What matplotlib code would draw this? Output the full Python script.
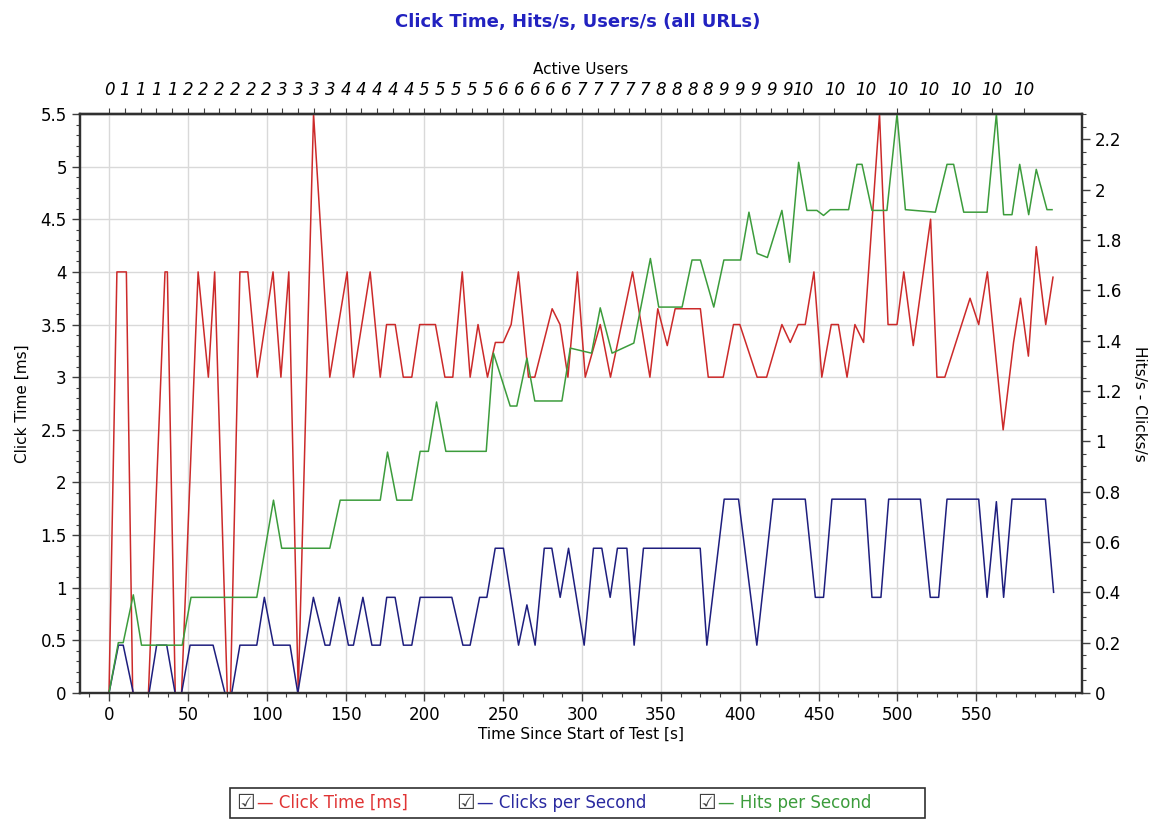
import matplotlib
matplotlib.use("Agg")
import matplotlib.pyplot as plt
from matplotlib.ticker import MultipleLocator, FormatStrFormatter
from matplotlib.patches import Rectangle

# ---- data ----
red_t = [0, 5, 11, 15, 25, 35.5, 37, 42, 46, 56.5, 63, 67, 75, 77, 83, 88, 94, 104, 109, 114,
         120, 129.7, 140, 151, 155, 165.6, 172, 176, 181.5, 186.6, 192, 197, 207, 213, 218, 224,
         229, 234, 240, 245, 250, 255, 259.6, 266, 270, 281, 286, 291, 297, 302, 311.5, 318, 332,
         343, 348, 354, 359, 375, 380, 389.5, 396, 400, 411, 417, 426.7, 432, 437, 441.5, 447,
         452, 458, 462.5, 468, 473, 478.5, 488.6, 494, 499.7, 504, 510, 521, 525, 530, 546,
         551.5, 557, 567, 573.6, 578, 583, 588, 594, 598.6]
click_time = [0, 4, 4, 0, 0, 4, 4, 0, 0, 4, 3, 4, 0, 0, 4, 4, 3, 4, 3, 4,
              0, 5.5, 3, 4, 3, 4, 3, 3.5, 3.5, 3, 3, 3.5, 3.5, 3, 3, 4,
              3, 3.5, 3, 3.33, 3.33, 3.5, 4, 3, 3, 3.65, 3.5, 3, 4, 3, 3.5, 3, 4,
              3, 3.65, 3.3, 3.65, 3.65, 3, 3, 3.5, 3.5, 3, 3, 3.5, 3.33, 3.5, 3.5, 4,
              3, 3.5, 3.5, 3, 3.5, 3.33, 5.5, 3.5, 3.5, 4, 3.3, 4.5, 3, 3, 3.75,
              3.5, 4, 2.5, 3.33, 3.75, 3.2, 4.24, 3.5, 3.95]

blue_t = [0, 6, 9, 15.4, 25.4, 30.2, 36.6, 41.9, 46, 51.4, 66, 73.5, 77.8, 83, 93.7, 98.5,
          104.3, 114.8, 119.7, 129.6, 137, 140, 146, 151.8, 155, 161, 166.7, 172, 176.1, 181.4,
          186.7, 192, 197.3, 217.4, 224.4, 229, 235, 239.6, 244.9, 250.1, 259.7, 265, 270.2,
          276, 280.8, 286.1, 291.4, 301.3, 307.2, 312.5, 317.8, 322.4, 328.4, 333, 338.9, 374.9,
          379.1, 390.1, 399.2, 410.8, 421, 441.5, 447.9, 453.1, 458.4, 479.6, 483.8, 489.5,
          494.4, 514.5, 520.8, 526.1, 531.4, 551.5, 556.8, 562.7, 567.3, 572.6, 593.8, 599]
clicks_per_s = [0, 0.19, 0.19, 0, 0, 0.19, 0.19, 0, 0, 0.19, 0.19, 0, 0, 0.19, 0.19, 0.38,
                0.19, 0.19, 0, 0.38, 0.19, 0.19, 0.38, 0.19, 0.19, 0.38, 0.19, 0.19, 0.38, 0.38,
                0.19, 0.19, 0.38, 0.38, 0.19, 0.19, 0.38, 0.38, 0.575, 0.575, 0.19, 0.35, 0.19,
                0.575, 0.575, 0.38, 0.575, 0.19, 0.575, 0.575, 0.38, 0.575, 0.575, 0.19, 0.575, 0.575,
                0.19, 0.77, 0.77, 0.19, 0.77, 0.77, 0.38, 0.38, 0.77, 0.77, 0.38, 0.38,
                0.77, 0.77, 0.38, 0.38, 0.77, 0.77, 0.38, 0.76, 0.38, 0.77, 0.77, 0.4]

green_t = [0, 5.9, 9, 15.4, 20.6, 46.4, 52, 93.7, 104.3, 109.5, 140, 146.6, 172, 176.6, 182.5,
           192, 197.3, 202.5, 207.7, 213.6, 239.2, 243.8, 254.4, 258.6, 265, 270, 287.2, 292.5,
           306, 311.5, 319, 332.8, 343.3, 348.6, 363.4, 369.7, 375, 383.5, 389.9, 400.5, 405.8,
           411, 417.5, 426.7, 431.6, 437.3, 442.6, 448.9, 453.1, 457.4, 469, 474.3, 477.5, 483.8,
           493.3, 499.7, 505, 524, 531.4, 535.6, 542, 556.8, 562.7, 567.3, 572.6, 577.5, 583.2,
           588, 594.8, 598]
hits_per_s = [0, 0.2, 0.2, 0.39, 0.19, 0.19, 0.38, 0.38, 0.766, 0.575, 0.575, 0.766, 0.766, 0.957, 0.766,
              0.766, 0.96, 0.96, 1.156, 0.96, 0.96, 1.35, 1.14, 1.14, 1.33, 1.16, 1.16, 1.37,
              1.35, 1.53, 1.35, 1.39, 1.726, 1.533, 1.533, 1.72, 1.72, 1.533, 1.72, 1.72, 1.91,
              1.746, 1.73, 1.917, 1.711, 2.108, 1.917, 1.917, 1.897, 1.92, 1.92, 2.1, 2.1, 1.917,
              1.917, 2.3, 1.92, 1.91, 2.1, 2.1, 1.91, 1.91, 2.3, 1.9, 1.9, 2.1, 1.9,
              2.08, 1.92, 1.92]

users_t = list(range(0, 450, 10)) + list(range(460, 600, 20))
active_users = [0, 1, 1, 1, 1, 2, 2, 2, 2, 2, 2, 3, 3, 3, 3, 4, 4, 4, 4, 4,
                5, 5, 5, 5, 5, 6, 6, 6, 6, 6, 7, 7, 7, 7, 7, 8, 8, 8, 8,
                9, 9, 9, 9, 9, 10, 10, 10, 10, 10, 10, 10, 10]

RED = "#cc2a2a"
BLUE = "#1e1e7e"
GREEN = "#3c9c3c"

plt.rcParams["font.family"] = "DejaVu Sans"
plt.rcParams["font.size"] = 11

W, H = 1156, 822
fig = plt.figure(figsize=(W / 100, H / 100), dpi=100)
ax = fig.add_axes([80 / W, 1 - 693 / H, (1082 - 80) / W, (693 - 114) / H])
ax2 = ax.twinx()

ax.plot(red_t, click_time, color=RED, lw=1.1, zorder=3)
ax2.plot(blue_t, clicks_per_s, color=BLUE, lw=1.1)
ax2.plot(green_t, hits_per_s, color=GREEN, lw=1.1)

ax.set_xlim(-18.4, 617)
ax.set_ylim(0, 5.5)
ax2.set_ylim(0, 2.3)

ax.set_xticks(range(0, 551, 50))
ax.xaxis.set_minor_locator(MultipleLocator(12.5))
ax.yaxis.set_major_locator(MultipleLocator(0.5))
ax.yaxis.set_minor_locator(MultipleLocator(0.1))
ax.yaxis.set_major_formatter(FormatStrFormatter("%g"))
ax2.yaxis.set_major_locator(MultipleLocator(0.2))
ax2.yaxis.set_minor_locator(MultipleLocator(0.05))
ax2.yaxis.set_major_formatter(FormatStrFormatter("%g"))

ax.grid(True, which="major", color="#d9d9d9", lw=1)
ax.set_axisbelow(True)

for a in (ax, ax2):
    for s in a.spines.values():
        s.set_color("#303030")
        s.set_linewidth(1.6)
    a.tick_params(which="major", length=6, width=1, color="#404040", labelsize=12)
    a.tick_params(which="minor", length=3, width=0.8, color="#404040")

ax.set_xlabel("Time Since Start of Test [s]", fontsize=11, labelpad=2)
ax.set_ylabel("Click Time [ms]", fontsize=11, labelpad=8)
ax2.set_ylabel("Hits/s - Clicks/s", fontsize=11, rotation=-90, labelpad=18)

# top axis with active users
top = ax.secondary_xaxis("top")
top.set_xticks(users_t)
top.set_xticklabels([str(u) for u in active_users], fontstyle="italic", fontsize=12)
top.tick_params(length=4, width=0.8, color="#404040", pad=7)
top.spines["top"].set_linewidth(1.6)
top.set_xlabel("Active Users", fontsize=11, labelpad=5)

fig.text(0.5, 1 - 22 / H, "Click Time, Hits/s, Users/s (all URLs)", ha="center", va="center",
         fontsize=13, fontweight="bold", color="#2222c0")

# legend box drawn as in the reference
fig.patches.append(Rectangle((230 / W, 1 - 818 / H), (925 - 230) / W, 30 / H,
                             transform=fig.transFigure, fill=False, ec="#303030", lw=1.2))
entries = [(236, "— Click Time [ms]", "#e03434"),
           (456, "— Clicks per Second", "#2a2aa0"),
           (697, "— Hits per Second", "#3c9c3c")]
for x, label, col in entries:
    fig.text(x / W, 1 - 803 / H, "\u2611", fontsize=15, color="#404040", ha="left", va="center")
    fig.text((x + 21) / W, 1 - 803 / H, label, fontsize=12, color=col, ha="left", va="center")

fig.savefig("out.png", dpi=100)
